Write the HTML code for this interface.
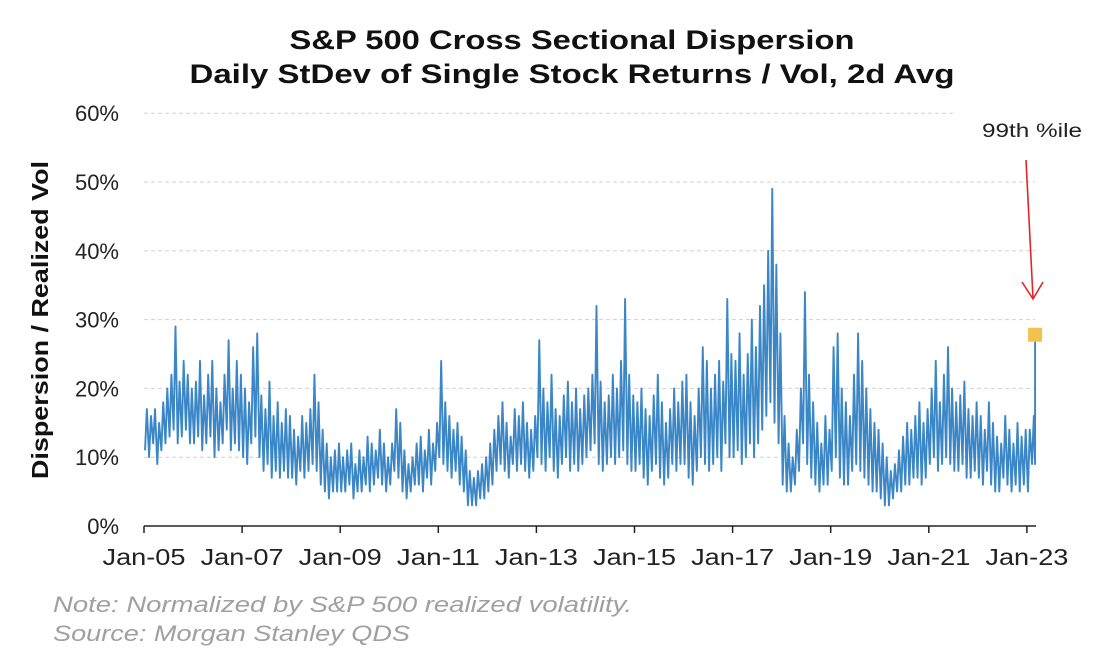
<!DOCTYPE html>
<html><head><meta charset="utf-8"><style>
body{margin:0;background:#fff;}
svg{display:block;font-family:"Liberation Sans",Arial,sans-serif;}
</style></head><body>
<svg id="chart" width="1096" height="662">
<text x="572" y="49" text-anchor="middle" font-size="27" font-weight="bold" fill="#111" textLength="565" lengthAdjust="spacingAndGlyphs">S&amp;P 500 Cross Sectional Dispersion</text>
<text x="572" y="83" text-anchor="middle" font-size="27" font-weight="bold" fill="#111" textLength="765" lengthAdjust="spacingAndGlyphs">Daily StDev of Single Stock Returns / Vol, 2d Avg</text>
<text transform="translate(48,320) rotate(-90)" text-anchor="middle" font-size="23" font-weight="bold" fill="#111" textLength="318" lengthAdjust="spacingAndGlyphs">Dispersion / Realized Vol</text>
<g id="grid"></g><g id="yt"></g><g id="xt"></g><g id="series"></g>
<text x="982" y="137" font-size="19" fill="#222" textLength="100" lengthAdjust="spacingAndGlyphs">99th %ile</text>
<g stroke="#e0262b" stroke-width="1.6" fill="none">
<line x1="1026" y1="160" x2="1033" y2="298"/><polyline points="1022,282 1033,299 1043,282"/></g>
<text x="53" y="612" font-size="22" font-style="italic" fill="#a0a0a0" textLength="579" lengthAdjust="spacingAndGlyphs">Note: Normalized by S&amp;P 500 realized volatility.</text>
<text x="53" y="641" font-size="22" font-style="italic" fill="#a0a0a0" textLength="357" lengthAdjust="spacingAndGlyphs">Source: Morgan Stanley QDS</text>
</svg>
<script>
const yTicks=[0,10,20,30,40,50,60];
const xLabels=["Jan-05","Jan-07","Jan-09","Jan-11","Jan-13","Jan-15","Jan-17","Jan-19","Jan-21","Jan-23"];
const highs=[17,16,17,15,18,20,22,29,21,24,22,20,
21,24,19,22,24,20,18,22,27,20,24,22,
20,18,26,28,19,17,21,16,18,15,17,16,
14,13,16,15,17,22,18,14,12,10,11,12,
10,11,12,9,11,10,13,12,11,14,12,10,
12,17,15,11,9,10,12,13,11,14,12,15,
24,18,16,14,15,13,11,8,7,8,9,10,
12,14,16,18,15,13,17,16,18,15,14,16,
27,20,18,22,17,16,19,21,18,20,17,19,
20,22,32,21,18,19,22,20,24,33,22,19,
18,20,17,16,19,22,18,15,17,20,18,21,
22,18,16,20,26,24,20,22,24,21,33,25,
24,28,22,25,30,26,32,35,40,49,38,28,
16,12,10,14,20,34,22,18,15,12,16,14,
26,28,20,18,16,22,28,24,20,17,15,14,
12,10,8,9,11,13,15,14,16,18,15,17,
20,24,18,22,26,20,18,19,21,17,16,18,
16,14,18,15,13,12,16,14,12,15,13,14,
14,16];
const lows=[11,10,12,9,11,12,13,14,12,13,14,12,
12,13,11,12,13,10,11,12,14,11,12,11,
10,9,12,13,10,8,9,7,8,7,8,7,
7,6,8,7,8,9,8,6,5,4,5,5,
5,5,6,4,5,5,6,5,6,7,6,5,
6,8,7,5,4,5,6,6,5,7,6,8,
10,9,8,7,8,6,5,3,3,3,4,4,
5,6,8,9,8,7,9,8,9,8,7,8,
10,9,8,10,8,7,9,10,8,9,8,9,
10,11,12,9,8,9,10,9,10,11,9,8,
8,9,7,6,8,9,7,6,7,9,8,9,
9,7,6,8,10,9,8,9,10,8,12,10,
10,11,9,10,12,10,12,14,16,18,15,12,
6,5,5,6,8,12,9,7,6,5,6,6,
8,10,7,6,6,8,9,8,7,6,5,5,
4,3,3,4,5,5,6,6,7,7,6,7,
9,10,8,9,10,9,8,8,9,7,7,8,
7,6,8,6,5,5,7,6,5,6,5,6,
5,9];
const lastValue=27.8;
const NS="http://www.w3.org/2000/svg";
const X0=144,PXM=98.1/24,Y0=526,PXP=68.8;
const x=m=>X0+m*PXM, y=v=>Y0-v*PXP/10;
function mk(t,a,p){const e=document.createElementNS(NS,t);for(const k in a)e.setAttribute(k,a[k]);p.appendChild(e);return e;}
const grid=document.getElementById('grid'),yt=document.getElementById('yt'),xt=document.getElementById('xt'),se=document.getElementById('series');
yTicks.forEach(v=>{
 if(v>0){const g=mk('line',{x1:144,x2:v==60?955:1035,y1:y(v),y2:y(v),stroke:'#d0d0d0','stroke-width':1,'stroke-dasharray':'4,3'},grid);
 
 }
 const t=mk('text',{x:119,y:y(v)+8,'text-anchor':'end','font-size':22,fill:'#222'},yt);t.textContent=v+'%';
 
 
});
const ax=mk('line',{x1:144,x2:1036,y1:Y0,y2:Y0,stroke:'#222','stroke-width':1.5},xt);


xLabels.forEach((l,i)=>{
 const xx=x(i*24);
 const tk=mk('line',{x1:xx,x2:xx,y1:Y0,y2:Y0+7,stroke:'#222','stroke-width':1.5},xt);
 
 
 const t=mk('text',{x:xx,y:565,'text-anchor':'middle','font-size':23,fill:'#222',textLength:83,lengthAdjust:'spacingAndGlyphs'},xt);t.textContent=l;
 
 
});
let pts=[];
for(let i=0;i<highs.length;i++){pts.push(x(i+0.25)+','+y(lows[i]));pts.push(x(i+0.7)+','+y(highs[i]));}
const n=highs.length;
pts.push(x(n)+','+y(lows[n-1]));pts.push(x(n)+','+y(lastValue));
const pl=mk('polyline',{points:pts.join(' '),fill:'none',stroke:'#3a86c6','stroke-width':1.9,'stroke-linejoin':'round'},se);


const sq=mk('rect',{x:x(n)-7,y:y(lastValue)-7,width:14,height:14,fill:'#f2c14e'},se);


</script>
</body></html>
